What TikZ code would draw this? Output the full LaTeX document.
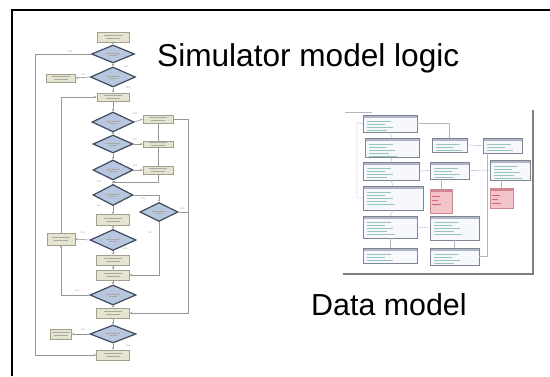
\documentclass[tikz,border=0pt]{standalone}
\usepackage{fontspec}
\setmainfont{Liberation Sans}
\usepackage{xcolor}
\usepackage{tikz}
\usetikzlibrary{arrows.meta,positioning,shapes.geometric}
\definecolor{boxfill}{RGB}{228,228,208}
\definecolor{boxedge}{RGB}{160,160,140}
\definecolor{decfill}{RGB}{183,199,223}
\definecolor{decedge}{RGB}{63,74,92}
\definecolor{flowgray}{RGB}{150,150,150}
\definecolor{txtgray}{RGB}{170,170,160}
\definecolor{umledge}{RGB}{125,133,149}
\definecolor{umlhead}{RGB}{176,182,196}
\definecolor{umlfill}{RGB}{247,248,251}
\definecolor{umltext}{RGB}{150,196,190}
\definecolor{pinkfill}{RGB}{242,196,200}
\definecolor{pinkedge}{RGB}{208,136,144}
\definecolor{pinktext}{RGB}{214,96,140}

\begin{document}
\begin{tikzpicture}[
  x=1pt,y=-1pt,
  font=\fontsize{30}{36}\selectfont,
  fbox/.style={draw=boxedge,fill=boxfill,line width=0.5pt,inner sep=0pt,
               minimum width=32pt,minimum height=9pt,
               path picture={\draw[txtgray,line width=0.6pt]
                 ([xshift=-9pt,yshift=1.3pt]path picture bounding box.center) -- ++(18pt,0pt)
                 ([xshift=-7pt,yshift=-1.3pt]path picture bounding box.center) -- ++(14pt,0pt);}},
  fdec/.style={diamond,draw=decedge,fill=decfill,line width=1.2pt,inner sep=0pt,
               minimum width=43pt,minimum height=20pt,
               path picture={\draw[txtgray,line width=0.6pt]
                 ([xshift=-7pt,yshift=1.2pt]path picture bounding box.center) -- ++(14pt,0pt)
                 ([xshift=-4pt,yshift=-1.2pt]path picture bounding box.center) -- ++(8pt,0pt);}},
  flow/.style={draw=flowgray,line width=0.6pt,-{Stealth[length=2.5pt,width=2.2pt]}},
  fline/.style={draw=flowgray,line width=0.6pt},
  yes/.style={font=\fontsize{2.5}{3}\selectfont,text=flowgray,inner sep=0pt},
  uml/.style={draw=umledge,fill=umlfill,line width=0.4pt,inner sep=0pt,
              path picture={
                \fill[umlhead] (path picture bounding box.north west)
                  rectangle ([yshift=-3pt]path picture bounding box.north east);
                \draw[umltext,line width=0.5pt]
                  ([xshift=4pt,yshift=-6pt]path picture bounding box.north west) -- ++(24pt,0pt)
                  ([xshift=4pt,yshift=-9pt]path picture bounding box.north west) -- ++(18pt,0pt)
                  ([xshift=4pt,yshift=-12pt]path picture bounding box.north west) -- ++(26pt,0pt)
                  ([xshift=4pt,yshift=-15pt]path picture bounding box.north west) -- ++(20pt,0pt)
                  ([xshift=4pt,yshift=-18pt]path picture bounding box.north west) -- ++(28pt,0pt);}},
  umlpink/.style={draw=pinkedge,fill=pinkfill,line width=0.4pt,inner sep=0pt,
              path picture={
                \fill[pinkedge] (path picture bounding box.north west)
                  rectangle ([yshift=-3pt]path picture bounding box.north east);
                \draw[pinktext,line width=0.5pt]
                  ([xshift=2pt,yshift=-7pt]path picture bounding box.north west) -- ++(8pt,0pt)
                  ([xshift=2pt,yshift=-11pt]path picture bounding box.north west) -- ++(6pt,0pt)
                  ([xshift=2pt,yshift=-15pt]path picture bounding box.north west) -- ++(9pt,0pt);}},
  umlline/.style={draw=umledge!60,line width=0.4pt}
]
  \useasboundingbox (0,0) rectangle (550,376);
  \fill[white] (0,0) rectangle (550,376);

  % slide frame
  \draw[line width=2pt] (12,376) -- (12,10) -- (550,10);

  % flowchart: main column
  \node[fbox,minimum height=10pt] (start) at (113,37) {};
  \node[fdec,minimum height=18pt] (d1) at (113,54) {};
  \node[fdec,minimum width=45pt] (d2) at (113,77) {};
  \node[fbox,minimum width=29pt,minimum height=8pt] (side2) at (61,78) {};
  \node[fbox,minimum height=8pt] (box3) at (113,97) {};
  \node[fdec,minimum width=42pt] (d3) at (113,122) {};
  \node[fbox,minimum width=30pt,minimum height=8pt] (ba) at (158,119) {};
  \node[fdec,minimum width=40pt,minimum height=18pt] (d4) at (113,144) {};
  \node[fbox,minimum width=30pt,minimum height=6pt] (bb) at (158,144) {};
  \node[fdec,minimum width=40pt] (d5) at (113,170) {};
  \node[fbox,minimum width=30pt,minimum height=8pt] (bc) at (158,170) {};
  \node[fdec,minimum width=40pt,minimum height=21pt] (d6) at (113,195) {};
  \node[fdec,minimum width=38pt,minimum height=19pt] (d6b) at (159,212) {};
  \node[fbox,minimum width=33pt,minimum height=11pt] (bd) at (113,220) {};
  \node[fdec,minimum width=46pt,minimum height=21pt] (d7) at (113,240) {};
  \node[fbox,minimum width=28pt,minimum height=12pt] (lb) at (61,239) {};
  \node[fbox,minimum width=33pt,minimum height=10pt] (be1) at (113,260) {};
  \node[fbox,minimum width=33pt,minimum height=10pt] (be2) at (113,275) {};
  \node[fdec,minimum width=46pt] (d8) at (113,295) {};
  \node[fbox,minimum width=33pt,minimum height=10pt] (bf) at (113,313) {};
  \node[fdec,minimum width=46pt,minimum height=18pt] (d9) at (113,334) {};
  \node[fbox,minimum width=21pt,minimum height=10pt] (lc) at (61,334) {};
  \node[fbox,minimum width=33pt,minimum height=10pt] (bg) at (113,355) {};

  \coordinate (join) at (113,182);
  \coordinate (lfar) at (35,54);
  \coordinate (rfar) at (188,119);

  \foreach \a/\b in {start/d1,d1/d2,d2/box3,box3/d3,d3/d4,d4/d5,d5/d6,d6/bd,bd/d7,
                     d7/be1,be1/be2,be2/d8,d8/bf,bf/d9,d9/bg}
    \draw[flow] (\a) -- (\b);

  \draw[flow] (d1.west) -- (lfar) |- (bg.west);
  \draw[flow] (d2.west) -- (side2.east);
  \draw[flow] (d3.east) -- (ba.west);
  \draw[flow] (d4.east) -- (bb.west);
  \draw[flow] (d5.east) -- (bc.west);
  \draw[fline] (ba.south) -- (bb.north);
  \draw[fline] (bb.south) -- (bc.north);
  \draw[flow] (bc.south) |- (join);
  \draw[flow] (ba.east) -- (rfar) |- (bf.east);
  \draw[flow] (d6.east) -| (d6b.north);
  \draw[fline] (d6b.east) -- (d6b.east -| rfar);
  \draw[flow] (d6b.south) |- (be2.east);
  \draw[flow] (d7.west) -- (lb.east);
  \draw[flow] (d8.west) -| (lb.south);
  \draw[flow] (lb.north) |- (box3.west);
  \draw[flow] (d9.west) -- (lc.east);

  % branch labels
  \node[yes] (y1) at (70,52) {Yes};
  \node[yes] (y2) at (126,67) {Yes};
  \node[yes] (y3) at (83,75) {Yes};
  \node[yes] (y4) at (128,88) {Yes};
  \node[yes] (y5) at (135,114) {Yes};
  \node[yes] (y6) at (135,140) {Yes};
  \node[yes] (y7) at (135,166) {Yes};
  \node[yes] (y8) at (99,182) {Yes};
  \node[yes] (y9) at (143,199) {Yes};
  \node[yes] (y10) at (182,209) {Yes};
  \node[yes] (y11) at (150,233) {No};
  \node[yes] (y12) at (99,206) {Yes};
  \node[yes] (y13) at (83,233) {Yes};
  \node[yes] (y14) at (125,249) {Yes};
  \node[yes] (y15) at (77,291) {Yes};
  \node[yes] (y16) at (83,330) {Yes};
  \node[yes] (y17) at (128,346) {Yes};

  % data model thumbnail
  \draw[umlline] (345,112) -- (372,112);
  \draw[gray,line width=1.3pt] (533,110) -- (533,274) -- (343,274);

  \node[uml,minimum width=54pt,minimum height=17pt] (c1) at (390,123.5) {};
  \node[uml,minimum width=54pt,minimum height=19pt] (c2) at (392,147.5) {};
  \node[uml,minimum width=56pt,minimum height=18pt] (c3) at (391,171) {};
  \node[uml,minimum width=60pt,minimum height=24pt] (c4) at (393,198) {};
  \node[uml,minimum width=54pt,minimum height=22pt] (c5) at (390,227) {};
  \node[uml,minimum width=54pt,minimum height=15pt] (c6) at (390,255.5) {};
  \node[uml,minimum width=35pt,minimum height=14pt] (c7) at (449.5,145) {};
  \node[uml,minimum width=39pt,minimum height=17pt] (c8) at (449.5,170.5) {};
  \node[umlpink,minimum width=22pt,minimum height=24pt] (c9) at (441,201) {};
  \node[uml,minimum width=49pt,minimum height=24pt] (c10) at (454.5,228) {};
  \node[uml,minimum width=49pt,minimum height=17pt] (c11) at (454.5,256.5) {};
  \node[uml,minimum width=39pt,minimum height=15pt] (c12) at (502.5,145.5) {};
  \node[uml,minimum width=40pt,minimum height=20pt] (c13) at (510,170) {};
  \node[umlpink,minimum width=23pt,minimum height=20pt] (c14) at (501.5,198) {};

  \coordinate (dlft) at (357,123);
  \coordinate (drgt) at (487,153);

  \draw[umlline] (c1.east) -| (c7.north);
  \draw[umlline] (c7.east) -- (c12.west);
  \draw[umlline] (c8.east) -- (c13.west);
  \draw[umlline] (c3.east) -- (c8.west);
  \draw[umlline] (c5.east) -- (c10.west);
  \draw[umlline] (c9.north) -- (c9.north |- c8.south);
  \draw[umlline] (c14.north) -- (c14.north |- c13.south);
  \foreach \a/\b in {c1/c2,c2/c3,c3/c4,c4/c5,c5/c6,c10/c11}
    \draw[umlline] (\a.south) -- (\b.north);
  \draw[umlline] (c1.west) -- (dlft) |- (c4.west);
  \draw[umlline] (c11.east) -| (drgt);

  % captions
  \node[anchor=base west,inner sep=0pt,font=\fontsize{31.6}{36}\selectfont] (simtitle) at (157,66) {Simulator model logic};
  \node[anchor=base west,inner sep=0pt,font=\fontsize{30.4}{36}\selectfont] (dmtitle) at (311,315) {Data model};
\end{tikzpicture}
\end{document}
